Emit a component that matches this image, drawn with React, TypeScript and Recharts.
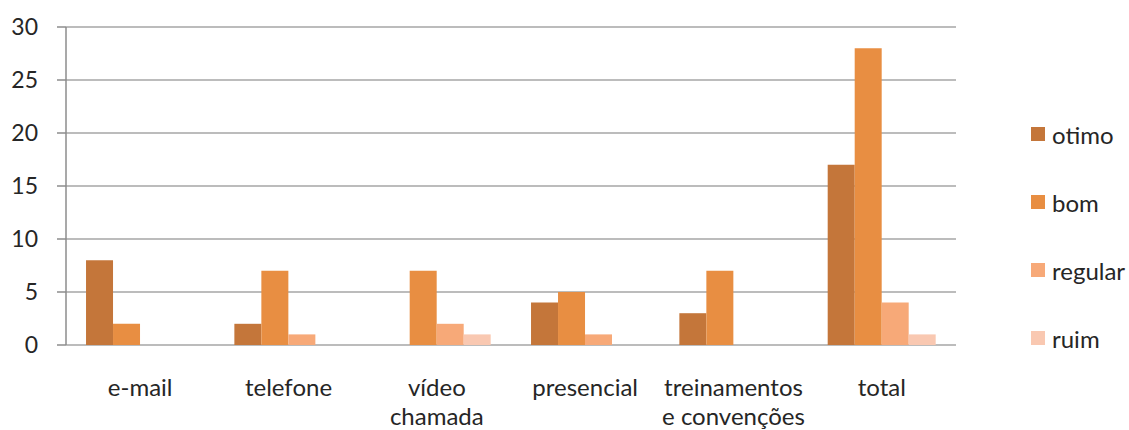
import React from 'react';
import { BarChart, Bar, XAxis, YAxis, CartesianGrid } from 'recharts';

const categories = ['e-mail', 'telefone', 'vídeo\nchamada', 'presencial', 'treinamentos\ne convenções', 'total'];
const otimo = [8, 2, 0, 4, 3, 17];
const bom = [2, 7, 7, 5, 7, 28];
const regular = [0, 1, 2, 1, 0, 4];
const ruim = [0, 0, 1, 0, 0, 1];
const yTicks = [0, 5, 10, 15, 20, 25, 30];
const edgeTicks = [0, 1, 2, 3, 4, 5, 6];

const series = [
  { key: 'otimo', color: '#C4763A' },
  { key: 'bom', color: '#E88E42' },
  { key: 'regular', color: '#F7A978' },
  { key: 'ruim', color: '#F9C8B1' },
];

const data = categories.map((name, i) => ({
  name,
  otimo: otimo[i],
  bom: bom[i],
  regular: regular[i],
  ruim: ruim[i],
}));

const FONT = 'Lato, "Open Sans", sans-serif';

// category labels can span two lines
const CategoryTick = (props: any) => {
  const { x, y, payload } = props;
  const lines = String(payload.value).split('\n');
  return (
    <text x={x} y={y} textAnchor="middle" fill="#262626" fontSize={24} fontFamily={FONT}>
      {lines.map((l: string, i: number) => (
        <tspan key={i} x={x} dy={i === 0 ? 43 : 29}>{l}</tspan>
      ))}
    </text>
  );
};

export default function App() {
  return (
    <div style={{ position: 'absolute', left: 0, top: 0, width: 1129, height: 430, background: '#fff', fontFamily: FONT }}>
      <BarChart
        width={1129}
        height={430}
        data={data}
        margin={{ top: 27, right: 173, bottom: 0, left: 0 }}
        barCategoryGap="13.5%"
        barGap={0}
      >
        <CartesianGrid vertical={false} stroke="#a6a6a6" strokeWidth={1.5} />
        {/* tick marks between categories */}
        <XAxis
          xAxisId="edge"
          type="number"
          domain={[0, 6]}
          ticks={edgeTicks}
          allowDataOverflow
          tick={false}
          tickSize={9}
          height={0}
          stroke="#8c8c8c"
          strokeWidth={1.5}
        />
        <XAxis
          xAxisId="cat"
          dataKey="name"
          interval={0}
          axisLine={false}
          tickLine={false}
          height={85}
          tick={<CategoryTick />}
        />
        <YAxis
          domain={[0, 30]}
          ticks={yTicks}
          width={66}
          tickSize={9}
          tickMargin={19}
          stroke="#8c8c8c"
          strokeWidth={1.5}
          tick={{ fill: '#262626', fontSize: 23, fontFamily: FONT }}
        />
        {series.map((s) => (
          <Bar key={s.key} xAxisId="cat" dataKey={s.key} fill={s.color} isAnimationActive={false} />
        ))}
      </BarChart>
      <div style={{ position: 'absolute', left: 1031, top: 100 }}>
        {series.map((s) => (
          <div key={s.key} style={{ display: 'flex', alignItems: 'center', height: 68, fontSize: 24, color: '#262626' }}>
            <span style={{ display: 'inline-block', width: 14, height: 14, background: s.color, marginRight: 7 }} />
            {s.key}
          </div>
        ))}
      </div>
    </div>
  );
}
